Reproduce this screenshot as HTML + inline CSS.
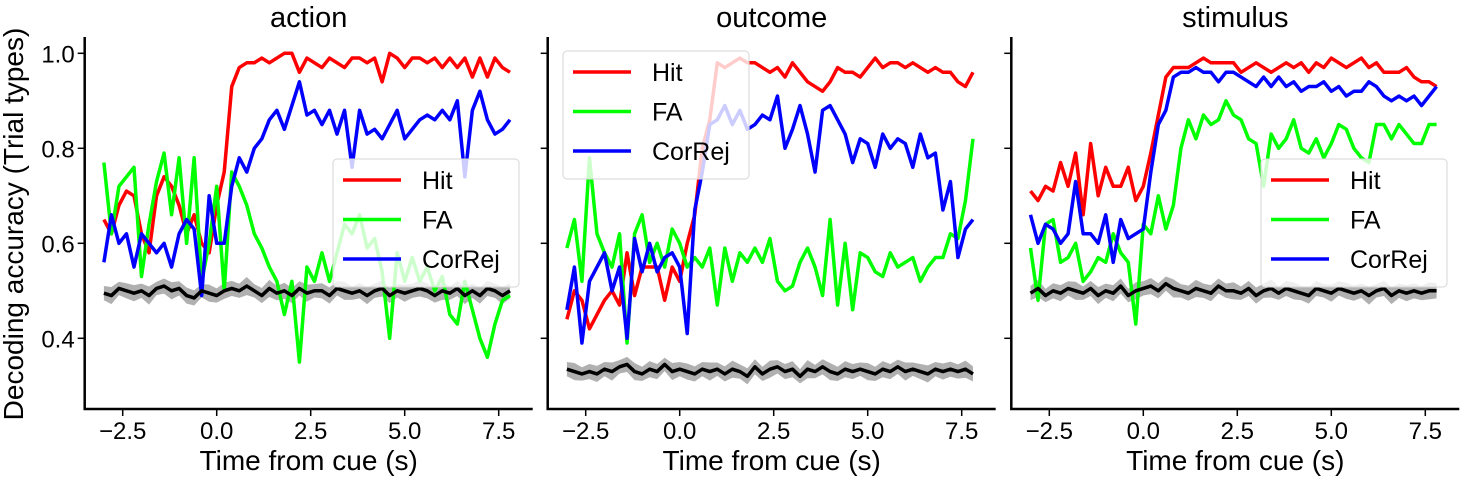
<!DOCTYPE html>
<html><head><meta charset="utf-8"><style>
body{margin:0;background:#fff;}
svg text{font-family:"Liberation Sans",sans-serif;fill:#000;}
</style></head><body>
<svg id="fig" width="1464" height="480" viewBox="0 0 1464 480" xmlns="http://www.w3.org/2000/svg"></svg>
<script>
const times = [];
for (let i = 0; i < 55; i++) times.push(-3 + i * 0.2);
const titles = ["action", "outcome", "stimulus"];
const seriesNames = ["Hit", "FA", "CorRej"];
const xTicks = [-2.5, 0.0, 2.5, 5.0, 7.5];
const xTickLabels = ["−2.5", "0.0", "2.5", "5.0", "7.5"];
const yTicks = [0.4, 0.6, 0.8, 1.0];
const yTickLabels = ["0.4", "0.6", "0.8", "1.0"];

const actionHit = [0.65,0.62,0.68,0.71,0.70,0.62,0.58,0.70,0.74,0.72,0.68,0.62,0.66,0.60,0.58,0.68,0.75,0.93,0.97,0.98,0.98,0.99,0.98,0.99,1.0,1.0,0.96,0.99,0.98,0.97,0.99,0.98,0.97,0.99,0.99,0.98,0.99,0.94,1.0,0.99,0.97,0.99,0.99,0.98,0.99,0.97,0.99,0.97,0.99,0.95,0.99,0.95,0.99,0.97,0.96];
const actionFA = [0.77,0.62,0.72,0.74,0.76,0.53,0.64,0.73,0.79,0.66,0.78,0.60,0.78,0.52,0.60,0.72,0.50,0.75,0.72,0.68,0.62,0.59,0.55,0.52,0.45,0.52,0.35,0.55,0.52,0.58,0.52,0.58,0.64,0.62,0.66,0.59,0.61,0.54,0.40,0.58,0.52,0.57,0.52,0.55,0.50,0.53,0.45,0.43,0.52,0.46,0.40,0.36,0.43,0.48,0.49];
const actionCorRej = [0.56,0.66,0.60,0.62,0.55,0.62,0.60,0.58,0.60,0.55,0.62,0.65,0.63,0.49,0.70,0.60,0.60,0.72,0.78,0.75,0.80,0.82,0.86,0.88,0.84,0.89,0.94,0.87,0.88,0.85,0.88,0.83,0.88,0.76,0.88,0.83,0.84,0.82,0.85,0.88,0.82,0.84,0.86,0.87,0.86,0.88,0.86,0.90,0.74,0.88,0.92,0.86,0.83,0.84,0.86];
const actionShuffle = [0.495,0.49,0.505,0.50,0.495,0.50,0.49,0.505,0.51,0.50,0.505,0.49,0.485,0.50,0.495,0.49,0.50,0.505,0.50,0.51,0.50,0.49,0.505,0.495,0.50,0.49,0.505,0.495,0.50,0.50,0.49,0.505,0.50,0.495,0.50,0.49,0.50,0.505,0.49,0.50,0.495,0.50,0.505,0.50,0.49,0.50,0.495,0.505,0.49,0.50,0.49,0.505,0.50,0.49,0.50];

const outcomeHit = [0.44,0.50,0.48,0.42,0.45,0.48,0.50,0.47,0.58,0.49,0.55,0.55,0.55,0.48,0.55,0.52,0.60,0.66,0.80,0.86,0.98,0.97,0.98,0.99,0.98,0.98,0.97,0.96,0.97,0.95,0.98,0.96,0.94,0.93,0.92,0.94,0.97,0.96,0.96,0.95,0.97,0.99,0.97,0.98,0.98,0.97,0.98,0.97,0.96,0.97,0.96,0.96,0.94,0.93,0.96];
const outcomeFA = [0.59,0.65,0.52,0.78,0.62,0.58,0.55,0.62,0.39,0.62,0.66,0.56,0.60,0.55,0.63,0.60,0.55,0.57,0.55,0.59,0.47,0.59,0.52,0.58,0.56,0.59,0.56,0.61,0.52,0.50,0.51,0.56,0.59,0.55,0.49,0.65,0.47,0.60,0.46,0.58,0.57,0.54,0.53,0.58,0.55,0.56,0.57,0.52,0.55,0.57,0.57,0.62,0.61,0.69,0.82];
const outcomeCorRej = [0.46,0.55,0.39,0.52,0.55,0.58,0.50,0.55,0.40,0.61,0.54,0.60,0.54,0.57,0.58,0.55,0.41,0.67,0.75,0.85,0.86,0.89,0.85,0.88,0.84,0.85,0.87,0.86,0.91,0.80,0.84,0.89,0.83,0.75,0.88,0.89,0.86,0.83,0.77,0.82,0.81,0.76,0.83,0.80,0.82,0.81,0.76,0.83,0.78,0.79,0.67,0.73,0.57,0.63,0.65];
const outcomeShuffle = [0.335,0.33,0.325,0.33,0.325,0.335,0.33,0.34,0.345,0.33,0.325,0.335,0.33,0.345,0.33,0.335,0.33,0.325,0.335,0.33,0.335,0.325,0.335,0.33,0.32,0.34,0.325,0.335,0.34,0.33,0.335,0.32,0.335,0.33,0.34,0.33,0.325,0.335,0.33,0.335,0.33,0.325,0.335,0.33,0.34,0.33,0.335,0.33,0.325,0.335,0.33,0.335,0.33,0.335,0.325];

const stimulusHit = [0.71,0.69,0.72,0.71,0.77,0.72,0.79,0.66,0.81,0.70,0.76,0.72,0.72,0.76,0.69,0.72,0.79,0.87,0.95,0.97,0.97,0.97,0.98,0.99,0.98,0.98,0.98,0.98,0.96,0.97,0.98,0.97,0.96,0.97,0.98,0.97,0.98,0.96,0.98,0.97,0.99,0.98,0.97,0.98,0.99,0.97,0.98,0.96,0.96,0.96,0.97,0.95,0.94,0.94,0.93];
const stimulusFA = [0.59,0.48,0.64,0.65,0.56,0.57,0.60,0.52,0.54,0.57,0.56,0.62,0.58,0.56,0.43,0.64,0.62,0.70,0.63,0.68,0.80,0.86,0.82,0.87,0.85,0.86,0.90,0.87,0.86,0.82,0.81,0.72,0.83,0.80,0.82,0.86,0.80,0.79,0.82,0.78,0.81,0.85,0.84,0.80,0.78,0.77,0.85,0.85,0.82,0.85,0.83,0.81,0.81,0.85,0.85];
const stimulusCorRej = [0.66,0.60,0.64,0.63,0.60,0.62,0.73,0.62,0.62,0.60,0.66,0.56,0.65,0.61,0.62,0.63,0.75,0.85,0.88,0.95,0.96,0.96,0.97,0.96,0.96,0.94,0.96,0.96,0.95,0.94,0.93,0.95,0.93,0.95,0.93,0.94,0.92,0.93,0.93,0.94,0.92,0.93,0.91,0.92,0.92,0.94,0.93,0.91,0.90,0.91,0.90,0.91,0.89,0.91,0.93];
const stimulusShuffle = [0.495,0.505,0.49,0.50,0.495,0.505,0.50,0.495,0.505,0.49,0.50,0.495,0.51,0.49,0.50,0.505,0.51,0.50,0.515,0.505,0.50,0.495,0.505,0.50,0.495,0.51,0.50,0.50,0.495,0.505,0.49,0.50,0.505,0.495,0.505,0.50,0.495,0.49,0.505,0.50,0.495,0.505,0.50,0.495,0.50,0.49,0.50,0.505,0.49,0.50,0.495,0.50,0.495,0.50,0.50];
const shuffleSem = [0.015,0.018,0.014,0.016,0.017,0.015,0.019,0.014,0.016,0.018,0.015,0.017,0.016,0.014,0.018,0.015,0.017,0.016,0.015,0.019,0.014,0.016,0.018,0.015,0.017,0.016,0.015,0.018,0.014,0.016,0.017,0.015,0.019,0.014,0.016,0.018,0.015,0.017,0.016,0.014,0.018,0.015,0.017,0.016,0.015,0.019,0.014,0.016,0.018,0.015,0.017,0.016,0.015,0.018,0.016];

const panels = [
  {off:0, hit:actionHit, fa:actionFA, cr:actionCorRej, sh:actionShuffle, lx:333, ly:159},
  {off:463, hit:outcomeHit, fa:outcomeFA, cr:outcomeCorRej, sh:outcomeShuffle, lx:563, ly:51},
  {off:926.6, hit:stimulusHit, fa:stimulusFA, cr:stimulusCorRej, sh:stimulusShuffle, lx:1261, ly:159}
];
const NS = "http://www.w3.org/2000/svg";
const svg = document.getElementById("fig");
function mk(tag, attrs, parent){const e=document.createElementNS(NS,tag);for(const k in attrs)e.setAttribute(k,attrs[k]);(parent||svg).appendChild(e);return e;}
const yScale = v => 53.3 + (1 - v) * 475;
const colors = ["#ff0000", "#00ff00", "#0000ff"];

panels.forEach((p, pi) => {
  const xScale = t => 216.7 + p.off + t * 37.6;
  const g = mk("g", {});
  
  
  let up = times.map((t,i)=>xScale(t)+","+yScale(p.sh[i]+shuffleSem[i]));
  let dn = times.map((t,i)=>xScale(t)+","+yScale(p.sh[i]-shuffleSem[i])).reverse();
  const band = mk("polygon", {points: up.concat(dn).join(" "), fill:"#b0b0b0"}, g);
  
  
  const series = [p.hit, p.fa, p.cr];
  series.forEach((s, si) => {
    const pl = mk("polyline", {points: times.map((t,i)=>xScale(t)+","+yScale(s[i])).join(" "), fill:"none", stroke:colors[si], "stroke-width":3.5, "stroke-linejoin":"round"}, g);
    
    
  });
  const sl = mk("polyline", {points: times.map((t,i)=>xScale(t)+","+yScale(p.sh[i])).join(" "), fill:"none", stroke:"#000", "stroke-width":3.5, "stroke-linejoin":"round"}, g);
  
  
  const ax0 = 84.7 + p.off;
  const axes = mk("path", {d:`M${ax0},37 V409 H${ax0+448}`, fill:"none", stroke:"#000", "stroke-width":2.5}, g);
  
  
  xTicks.forEach((t, i) => {
    const x = xScale(t);
    mk("line", {x1:x, x2:x, y1:409, y2:416, stroke:"#000", "stroke-width":1.5}, g);
    const tl = mk("text", {x:x, y:439, "font-size":24, "text-anchor":"middle"}, g);
    tl.textContent = xTickLabels[i];
    
    
  });
  yTicks.forEach((v, i) => {
    const y = yScale(v);
    mk("line", {x1:ax0-7, x2:ax0, y1:y, y2:y, stroke:"#000", "stroke-width":1.5}, g);
    if (pi === 0) {
      const tl = mk("text", {x:ax0-10, y:y+9, "font-size":24, "text-anchor":"end"}, g);
      tl.textContent = yTickLabels[i];
      
      
    }
  });
  const xl = mk("text", {x:ax0+224, y:470, "font-size":28, "text-anchor":"middle"}, g);
  xl.textContent = "Time from cue (s)";
  
  
  const tt = mk("text", {x:ax0+224, y:27, "font-size":29, "text-anchor":"middle"}, g);
  tt.textContent = titles[pi];
  
  
  const lg = mk("g", {}, g);
  
  
  mk("rect", {x:p.lx, y:p.ly, width:186, height:128, rx:4, fill:"rgba(255,255,255,0.8)", stroke:"#d6d6d6", "stroke-width":1}, lg);
  seriesNames.forEach((n, si) => {
    const cy = p.ly + 21 + si * 39.5;
    mk("line", {x1:p.lx+10, x2:p.lx+68, y1:cy, y2:cy, stroke:colors[si], "stroke-width":3.5}, lg);
    const lt = mk("text", {x:p.lx+89, y:cy+9, "font-size":25}, lg);
    lt.textContent = n;
    
    
  });
});
const yl = mk("text", {x:0, y:0, "font-size":28, "text-anchor":"middle", transform:"translate(23,224) rotate(-90)"});
yl.textContent = "Decoding accuracy (Trial types)";


</script>
</body></html>
